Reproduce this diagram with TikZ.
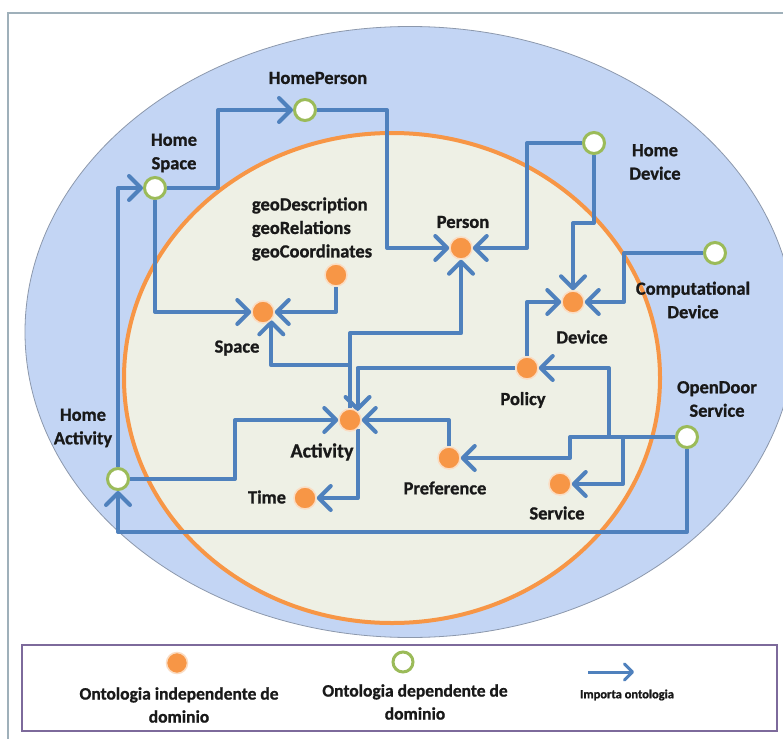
\documentclass[tikz,border=0pt]{standalone}
\usepackage{fontspec}
\setmainfont{Carlito}[BoldFont={Carlito Bold}, BoldFeatures={FakeBold=1.0}]
\usetikzlibrary{arrows.meta}
\definecolor{conn}{HTML}{4F81BD}
\definecolor{outerfill}{HTML}{C3D5F4}
\definecolor{outerline}{HTML}{8C98AC}
\definecolor{innerfill}{HTML}{EEF0E5}
\definecolor{orng}{HTML}{F79646}
\definecolor{orngedge}{HTML}{FBDCC2}
\definecolor{grn}{HTML}{9BBB59}
\definecolor{framec}{HTML}{9FB0BA}
\definecolor{legline}{HTML}{7D6A9B}
\pgfdeclarelayer{back}
\pgfdeclarelayer{mid}
\pgfsetlayers{back,mid,main}
\tikzset{
  indep/.style={circle, fill=orng, draw=orngedge, line width=1.5pt, minimum size=22pt, inner sep=0pt},
  dep/.style={circle, fill=white, draw=grn, line width=3pt, minimum size=21pt, inner sep=0pt},
  imp/.style={draw=conn, line width=4pt, line join=round,
    -{Straight Barb[length=12pt,width=24pt,line cap=round,line join=round]}},
  lbl/.style={font=\fontsize{18.5}{23.5}\selectfont\bfseries, align=center, inner sep=0pt, text=black!90},
  leglbl/.style={font=\fontsize{17.5}{23}\selectfont\bfseries, align=center, inner sep=0pt, text=black!90},
}
\begin{document}
\begin{tikzpicture}[x=1pt,y=-1pt]
\useasboundingbox (0,0) rectangle (783,738);
\clip (0,0) rectangle (783,738);
\begin{pgfonlayer}{back}
  \fill[white] (0,0) rectangle (783,738);
  \draw[framec, line width=2pt] (8,760) -- (8,13) -- (800,13);
  \draw[outerline, line width=0.8pt, fill=outerfill] (410,332) ellipse [x radius=385pt, y radius=305.5pt];
  \draw[orng, line width=4pt, fill=innerfill] (392,378) ellipse [x radius=268pt, y radius=245pt];
\end{pgfonlayer}

% domain dependent ontologies
\node[dep] (hp) at (305,110) {};
\node[dep] (hs) at (155,188) {};
\node[dep] (hd) at (594,143) {};
\node[dep] (cd) at (715,253) {};
\node[dep] (od) at (687,437) {};
\node[dep] (ha) at (118,479) {};
% domain independent ontologies
\node[indep] (person) at (461,248) {};
\node[indep] (geo) at (336,275) {};
\node[indep] (space) at (263,312) {};
\node[indep] (device) at (573,302) {};
\node[indep] (policy) at (527,368) {};
\node[indep] (activity) at (350,420) {};
\node[indep] (pref) at (449,458) {};
\node[indep] (time) at (305,498) {};
\node[indep] (service) at (560,484) {};

% labels
\node[lbl] (lhp) at (318,78) {HomePerson};
\node[lbl] (lhs) at (174,153) {Home\\Space};
\node[lbl] (lhd) at (655,162) {Home\\Device};
\node[lbl] (lcd) at (693,300) {Computational\\Device};
\node[lbl] (lod) at (717,399) {OpenDoor\\Service};
\node[lbl] (lha) at (83,428) {Home\\Activity};
\node[lbl] (lperson) at (463,222) {Person};
\node[lbl, align=left] (lgeo) at (312,229) {geoDescription\\geoRelations\\geoCoordinates};
\node[lbl] (lspace) at (237,348) {Space};
\node[lbl] (ldevice) at (582,337) {Device};
\node[lbl] (lpolicy) at (523,400) {Policy};
\node[lbl, font=\fontsize{20}{24}\selectfont\bfseries] (lactivity) at (322,452) {Activity};
\node[lbl] (lpref) at (445,488) {Preference};
\node[lbl] (ltime) at (267,497) {Time};
\node[lbl] (lservice) at (557,513) {Service};

\begin{pgfonlayer}{mid}
  \draw[imp] (hs.east) -- ++(51,0) |- (hp.west);
  \draw[imp] (hs.south) |- (space.west);
  \draw[imp] (ha.north) |- (hs.west);
  \draw[imp] (ha.east) -- ++(105,0) |- (activity.west);
  \draw[imp] (od.south) -- ++(0,83) -| (ha.south);
  \draw[imp] (hp.east) -- ++(70,0) |- (person.west);
  \draw[imp] (hd.west) -- ++(-55,0) |- (person.east);
  \draw[imp] (hd.south) -- ++(0,68) -| (device.north);
  \draw[imp] (cd.west) -- ++(-79,0) |- (device.east);
  \draw[imp] (policy.north) |- (device.west);
  \draw[imp] (geo.south) |- (space.east);
  \draw[imp] (activity.north) -- ++(0,-43) -| (space.-45);
  \draw[imp] (activity.north) -- ++(0,-75) -| (person.south);
  \draw[imp] (policy.west) -| (activity.50);
  \draw[imp] (pref.north) |- (activity.east);
  \draw[imp] (activity.-50) |- (time.east);
  \draw[imp] (od.west) -- ++(-66,0) |- (policy.east);
  \draw[imp] (od.west) -- ++(-105,0) |- (pref.east);
  \draw[imp] (od.west) -- ++(-52,0) |- (service.east);
\end{pgfonlayer}

% legend
\node[draw=legline, line width=2.5pt, fill=white, minimum width=755pt, minimum height=86pt, inner sep=0pt] (legend) at (399.5,688) {};
\node[indep, minimum size=21pt] (lgi) at (177,663) {};
\node[leglbl] (lgit) at (179,705) {Ontologia independente de\\dominio};
\node[dep, minimum size=20pt] (lgd) at (403,662) {};
\node[leglbl] (lgdt) at (415,702) {Ontologia dependente de\\dominio};
\coordinate (lga1) at (588,672);
\coordinate (lga2) at (634,672);
\draw[draw=conn, line width=3pt, -{Straight Barb[length=8pt,width=16pt,line cap=round,line join=round]}] (lga1) -- (lga2);
\node[font=\fontsize{12.5}{15}\selectfont\bfseries, inner sep=0pt, text=black!90] (lgat) at (627,695) {Importa ontologia};
\end{tikzpicture}
\end{document}
